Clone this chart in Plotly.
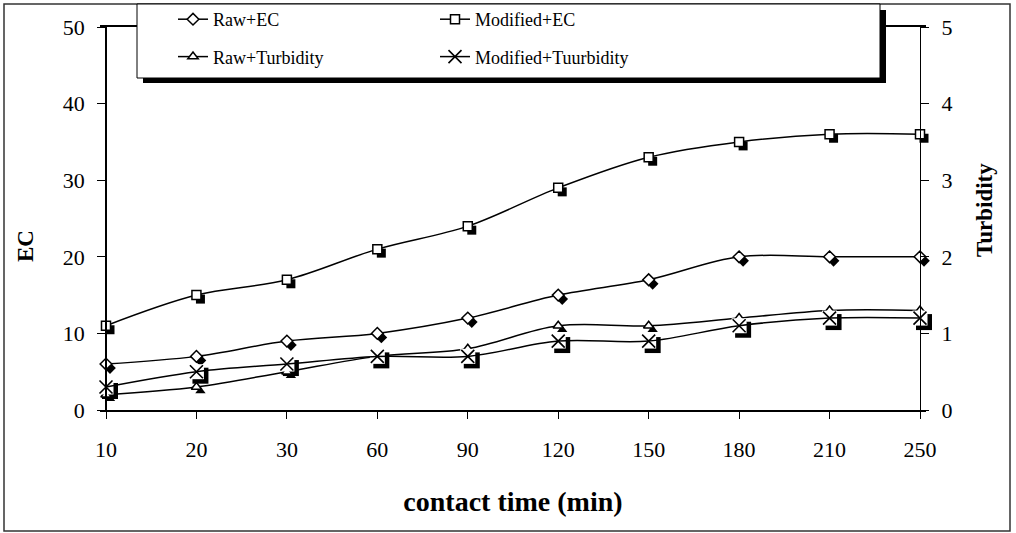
import plotly.graph_objects as go

# ---------------- data ----------------
contact_time = ["10", "20", "30", "60", "90", "120", "150", "180", "210", "250"]
raw_ec = [6, 7, 9, 10, 12, 15, 17, 20, 20, 20]
modified_ec = [11, 15, 17, 21, 24, 29, 33, 35, 36, 36]
raw_turbidity = [0.2, 0.3, 0.5, 0.7, 0.8, 1.1, 1.1, 1.2, 1.3, 1.3]
modified_turbidity = [0.3, 0.5, 0.6, 0.7, 0.7, 0.9, 0.9, 1.1, 1.2, 1.2]

ec_range = [0, 50]
turb_range = [0, 5]

# ---------------- geometry ----------------
W, H = 1016, 533
AL, AR = 106, 920             # where the y axes sit (px)
PL, PR, PT, PB = 100, 926, 27, 410   # plotting area (px), slightly wider than axes
PW, PH = PR - PL, PB - PT
FONT = "Liberation Serif"


def xp(px):
    return (px - PL) / PW


def yp(py):
    return (PB - py) / PH


ncat = len(contact_time) - 1
step = (AR - AL) / ncat
xr = [(PL - AL) / step, ncat + (PR - AR) / step]

SH = 4  # shadow offset in px
dx = SH / step
dy_ec = SH * (ec_range[1] - ec_range[0]) / PH
dy_tb = SH * (turb_range[1] - turb_range[0]) / PH

fig = go.Figure()

LINE = dict(color="black", width=1.5, shape="spline", smoothing=1)


def add_series(name, yvals, symbol, yaxis_main, yaxis_shadow, legend, group,
               size=9, xmark=False):
    # shadow (drawn on shifted, hidden axes x / y or y2)
    fig.add_trace(go.Scatter(
        x=contact_time, y=yvals, mode="markers", xaxis="x", yaxis=yaxis_shadow,
        marker=dict(symbol="square" if xmark else symbol, size=16 if xmark else size,
                    color="black", line=dict(width=0)),
        showlegend=False, hoverinfo="skip", cliponaxis=False))
    if xmark:
        fig.add_trace(go.Scatter(
            x=contact_time, y=yvals, mode="markers", xaxis="x2", yaxis=yaxis_main,
            marker=dict(symbol="square", size=15, color="white", line=dict(width=0)),
            showlegend=False, hoverinfo="skip", cliponaxis=False))
        mk = dict(symbol="x-thin-open", size=13, color="black",
                  line=dict(width=1.6, color="black"))
    else:
        mk = dict(symbol=symbol, size=size, color="white",
                  line=dict(width=1.5, color="black"))
    fig.add_trace(go.Scatter(
        x=contact_time, y=yvals, mode="lines+markers", name=name,
        xaxis="x2", yaxis=yaxis_main,
        line=LINE, marker=mk, legend=legend, legendgroup=group, cliponaxis=False))


add_series("Raw+EC", raw_ec, "diamond", "y3", "y", "legend", "a")
add_series("Modified+EC", modified_ec, "square", "y3", "y", "legend2", "c")
add_series("Raw+Turbidity", raw_turbidity, "triangle-up", "y4", "y2", "legend", "b")
add_series("Modified+Tuurbidity", modified_turbidity, "x", "y4", "y2", "legend2", "d",
           xmark=True)

tickfont = dict(family=FONT, size=22, color="black")
titlefont = dict(family=FONT, size=23, color="black")
legfont = dict(family=FONT, size=18, color="black")

fig.update_layout(
    width=W, height=H, autosize=False,
    margin=dict(l=PL, r=W - PR, t=PT, b=H - PB, pad=0, autoexpand=False),
    paper_bgcolor="white", plot_bgcolor="white",
    font=dict(family=FONT, color="black"),
    # hidden, shifted axes carrying the marker shadows
    xaxis=dict(type="category", range=[xr[0] - dx, xr[1] - dx], visible=False),
    yaxis=dict(range=[ec_range[0] + dy_ec, ec_range[1] + dy_ec], visible=False),
    yaxis2=dict(range=[turb_range[0] + dy_tb, turb_range[1] + dy_tb], overlaying="y",
                visible=False),
    # visible axes
    xaxis2=dict(type="category", range=xr, overlaying="x", anchor="y", side="bottom",
                showgrid=False, zeroline=False,
                showline=True, linecolor="black", linewidth=1.5, mirror=True,
                ticks="outside", ticklen=7, tickcolor="black", tickwidth=1,
                tickfont=tickfont, ticklabelstandoff=12,
                title=dict(text="<b>contact time (min)</b>",
                           font=dict(family=FONT, size=28, color="black"), standoff=30)),
    yaxis3=dict(range=ec_range, dtick=10, overlaying="y", anchor="free", position=xp(AL),
                side="left", showgrid=False, zeroline=False,
                showline=True, linecolor="black", linewidth=1.5,
                ticks="outside", ticklen=8, tickcolor="black", tickwidth=1,
                tickfont=tickfont, ticklabelstandoff=8),
    yaxis4=dict(range=turb_range, dtick=1, overlaying="y", side="right", anchor="free",
                position=xp(AR), showgrid=False, zeroline=False, showline=True,
                linecolor="black", linewidth=1, ticks="outside", ticklen=8,
                tickcolor="black", tickwidth=1, tickfont=tickfont, ticklabelstandoff=8),
    yaxis5=dict(range=turb_range, dtick=1, overlaying="y", side="right", anchor="free",
                position=xp(AR), showgrid=False, zeroline=False, showline=False,
                ticks="inside", ticklen=8, tickcolor="black", tickwidth=1,
                showticklabels=False),
    legend=dict(x=xp(173), y=yp(1), xanchor="left", yanchor="top",
                bgcolor="rgba(0,0,0,0)", borderwidth=0, tracegroupgap=11, font=legfont),
    legend2=dict(x=xp(435), y=yp(1), xanchor="left", yanchor="top",
                 bgcolor="rgba(0,0,0,0)", borderwidth=0, tracegroupgap=11, font=legfont),
    annotations=[
        dict(text="<b>EC</b>", xref="paper", yref="paper", x=xp(25), y=yp(246),
             xanchor="center", yanchor="middle", textangle=-90, showarrow=False,
             font=titlefont),
        dict(text="<b>Turbidity</b>", xref="paper", yref="paper", x=xp(985), y=yp(210),
             xanchor="center", yanchor="middle", textangle=-90, showarrow=False,
             font=titlefont),
    ],
    shapes=[
        dict(type="rect", xref="paper", yref="paper", x0=xp(4), x1=xp(1010),
             y0=yp(531), y1=yp(4), line=dict(color="#333333", width=1.5),
             fillcolor="rgba(0,0,0,0)", layer="below"),
        dict(type="rect", xref="paper", yref="paper", x0=xp(143), x1=xp(886),
             y0=yp(83), y1=yp(10), line=dict(width=0), fillcolor="black"),
        dict(type="rect", xref="paper", yref="paper", x0=xp(137), x1=xp(880),
             y0=yp(78), y1=yp(4), line=dict(color="black", width=1), fillcolor="white"),
    ],
)

fig.write_html("out.html")
